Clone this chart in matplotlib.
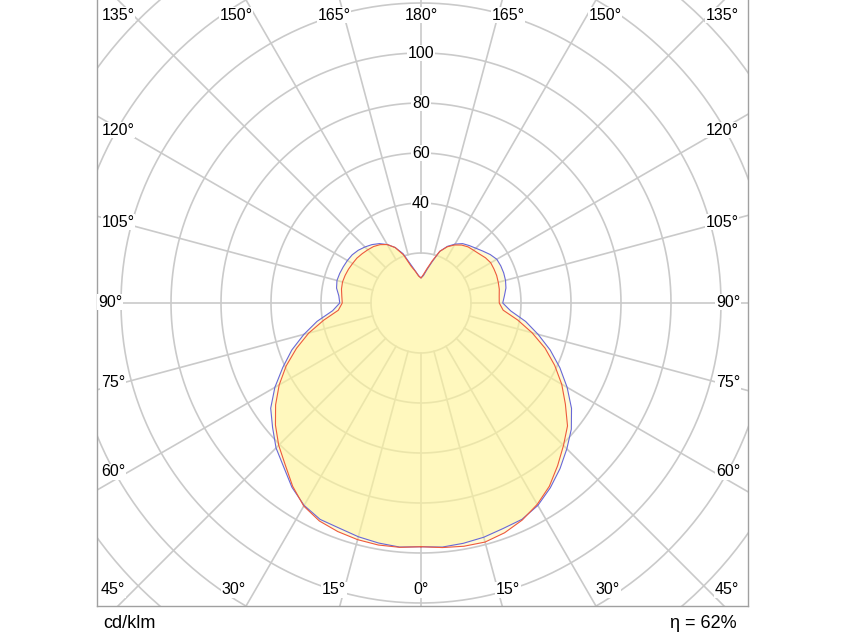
import numpy as np
import matplotlib.pyplot as plt

plt.rcParams['font.family'] = ['Liberation Sans', 'DejaVu Sans']

# gamma angles (0 = straight down, 180 = straight up)
gamma = np.arange(0, 181, 5)

# C0-C180 plane (red), cd/klm
red_right = [97.5, 98.2, 98.8, 99.0, 97.8, 95.8, 93.0, 89.5, 85.0, 80.6,
             76.5, 70.5, 65.0, 59.0, 52.8, 46.0, 39.3, 33.0, 31.3, 31.4,
             31.8, 32.0, 32.2, 32.2, 32.2, 31.5, 30.5, 29.8, 29.3, 28.3,
             26.8, 24.8, 22.0, 17.5, 14.0, 11.5, 10.0]
red_left = [97.5, 98.1, 98.3, 98.0, 97.3, 96.2, 93.8, 89.5, 84.5, 80.5,
            76.0, 71.0, 65.5, 59.5, 53.0, 46.5, 39.5, 33.2, 31.5, 31.8,
            32.3, 32.5, 32.3, 32.0, 31.6, 31.3, 30.7, 30.1, 29.5, 28.5,
            27.0, 24.5, 20.5, 15.2, 12.8, 10.8, 10.0]

# C90-C270 plane (blue)
blue_right = [97.5, 98.0, 97.6, 97.0, 96.0, 95.5, 93.5, 90.2, 86.5, 82.5,
              78.5, 73.5, 67.5, 61.3, 55.0, 48.5, 42.5, 36.0, 32.7, 33.5,
              34.5, 35.0, 35.2, 35.2, 35.0, 33.8, 32.3, 31.0, 30.0, 29.0,
              27.2, 25.0, 22.0, 17.0, 13.5, 11.0, 10.0]
blue_left = [97.5, 98.0, 97.5, 96.8, 95.8, 95.5, 93.5, 90.0, 85.5, 82.0,
             77.5, 73.4, 67.5, 61.0, 55.0, 48.5, 42.2, 35.5, 32.5, 33.0,
             34.3, 34.8, 34.6, 34.3, 34.0, 33.6, 32.8, 31.7, 30.5, 29.0,
             27.0, 24.5, 21.0, 16.0, 13.0, 11.0, 10.0]

ring_values = [20, 40, 60, 80, 100, 120, 140, 160, 180]
ring_labels = [40, 60, 80, 100]
spoke_angles = np.arange(0, 360, 15)
efficiency = 62

# angle labels: text, pixel position in the 844x633 picture
angle_labels = [
    ("135°", 118, 15), ("150°", 236, 15), ("165°", 334, 15), ("180°", 421, 15),
    ("165°", 508, 15), ("150°", 605, 15), ("135°", 722, 15),
    ("120°", 118, 130), ("105°", 118, 222), ("90°", 110, 302), ("75°", 113, 382),
    ("60°", 113, 472), ("45°", 113, 590),
    ("120°", 722, 130), ("105°", 722, 222), ("90°", 728, 302), ("75°", 728, 382),
    ("60°", 728, 472), ("45°", 727, 590),
    ("30°", 234, 590), ("15°", 334, 590), ("0°", 421, 590),
    ("15°", 508, 590), ("30°", 608, 590),
]

W, H = 844, 633
cx, cy, scale = 421, 303, 2.5  # centre in px, px per cd/klm


def to_xy(g_right, r_right, g_left, r_left):
    # full closed curve: right half going up, then left half coming down
    g = np.concatenate([np.radians(g_right), -np.radians(g_left[::-1])])
    r = np.concatenate([r_right, r_left[::-1]])
    return r * np.sin(g), -r * np.cos(g)


def px(x, y):
    return (x - cx) / scale, (cy - y) / scale


fig = plt.figure(figsize=(W / 100, H / 100), dpi=100)
ax = fig.add_axes([97 / W, (H - 606) / H, 651 / W, 606 / H])
x0, y0 = px(97, 606)
x1, y1 = px(748, 0)
ax.set_xlim(x0, x1)
ax.set_ylim(y0, y1)
ax.set_aspect('equal')
ax.set_xticks([])
ax.set_yticks([])
for s in ax.spines.values():
    s.set_color('#a0a0a0')
    s.set_linewidth(1.0)
ax.spines['top'].set_visible(False)

grid_col = '#cacaca'
t = np.linspace(0, 2 * np.pi, 400)
for rv in ring_values:
    ax.plot(rv * np.cos(t), rv * np.sin(t), color=grid_col, lw=1.2, zorder=1)
for a in spoke_angles:
    ar = np.radians(a)
    ax.plot([20 * np.sin(ar), 250 * np.sin(ar)], [-20 * np.cos(ar), -250 * np.cos(ar)],
            color=grid_col, lw=1.2, zorder=1)

rx, ry = to_xy(gamma, np.array(red_right), gamma, np.array(red_left))
bx, by = to_xy(gamma, np.array(blue_right), gamma, np.array(blue_left))
ax.fill(rx, ry, color='#fff59a', alpha=0.4, lw=0, zorder=2)
ax.fill(bx, by, color='#fff59a', alpha=0.4, lw=0, zorder=2)
ax.plot(bx, by, color='#6868d8', lw=0.8, zorder=3)
ax.plot(rx, ry, color='#ee5a3c', lw=0.8, zorder=3)

for v in ring_labels:
    ax.text(0, v, str(v), ha='center', va='center', fontsize=11.5, zorder=5,
            bbox=dict(facecolor='white', edgecolor='none', pad=0.5))

for txt, x, y in angle_labels:
    xd, yd = px(x, y)
    ax.text(xd, yd, txt, ha='center', va='center', fontsize=11.5, zorder=5,
            bbox=dict(facecolor='white', edgecolor='none', pad=0.5))

fig.text(103 / W, 1 - 624 / H, "cd/klm", ha='left', va='center', fontsize=13)
fig.text(737 / W, 1 - 624 / H, "η = %d%%" % efficiency, ha='right', va='center', fontsize=13)

fig.savefig('out.png', dpi=100)
